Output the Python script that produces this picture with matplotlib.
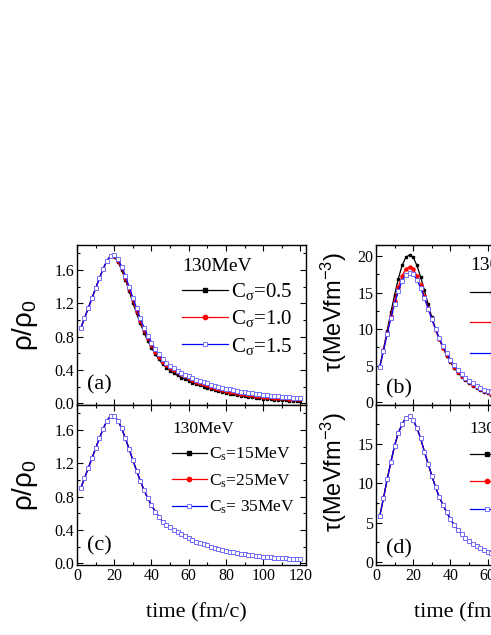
import numpy as np
import matplotlib
matplotlib.use('Agg')
import matplotlib.pyplot as plt
from matplotlib.ticker import MultipleLocator, FormatStrFormatter

# time grid (fm/c)
time = np.arange(2, 121, 2)

# rho/rho0, panel (a): C_sigma = 0.5, 1.0, 1.5
rho_cs05 = [0.90, 1.02, 1.14, 1.26, 1.38, 1.50, 1.61, 1.71, 1.77, 1.76,
            1.70, 1.60, 1.48, 1.35, 1.21, 1.08, 0.96, 0.85, 0.75, 0.67,
            0.59, 0.53, 0.47, 0.43, 0.39, 0.36, 0.335, 0.31, 0.29, 0.27,
            0.25, 0.23, 0.215, 0.20, 0.185, 0.17, 0.16, 0.145, 0.135, 0.125,
            0.115, 0.107, 0.100, 0.092, 0.085, 0.078, 0.072, 0.067, 0.062, 0.057,
            0.053, 0.049, 0.045, 0.042, 0.039, 0.036, 0.034, 0.032, 0.030, 0.028]
rho_cs10 = [0.90, 1.02, 1.14, 1.26, 1.38, 1.50, 1.61, 1.71, 1.77, 1.77,
            1.71, 1.62, 1.50, 1.37, 1.24, 1.11, 0.99, 0.88, 0.78, 0.70,
            0.62, 0.56, 0.50, 0.46, 0.43, 0.40, 0.375, 0.35, 0.325, 0.305,
            0.28, 0.26, 0.245, 0.23, 0.215, 0.20, 0.188, 0.175, 0.162, 0.150,
            0.140, 0.132, 0.124, 0.116, 0.109, 0.102, 0.096, 0.090, 0.085, 0.080,
            0.076, 0.072, 0.068, 0.065, 0.062, 0.059, 0.056, 0.053, 0.050, 0.047]
rho_cs15 = [0.90, 1.02, 1.14, 1.26, 1.38, 1.50, 1.61, 1.71, 1.77, 1.78,
            1.73, 1.64, 1.53, 1.40, 1.27, 1.14, 1.02, 0.91, 0.81, 0.73,
            0.65, 0.59, 0.53, 0.49, 0.45, 0.42, 0.39, 0.365, 0.345, 0.325,
            0.305, 0.285, 0.27, 0.255, 0.24, 0.225, 0.213, 0.20, 0.188, 0.177,
            0.167, 0.158, 0.149, 0.141, 0.133, 0.126, 0.119, 0.113, 0.107, 0.101,
            0.096, 0.091, 0.087, 0.083, 0.079, 0.075, 0.072, 0.069, 0.066, 0.063]

# rho/rho0, panel (c): C_s = 15, 25, 35 MeV (nearly identical)
rho_s = rho_cs10

# tau (MeV fm^-3), panel (b)
tau_cs05 = [4.8, 7.2, 9.8, 12.3, 14.7, 16.9, 18.7, 19.8, 20.15, 19.8,
            18.7, 17.1, 15.3, 13.4, 11.6, 10.0, 8.6, 7.4, 6.35, 5.45,
            4.7, 4.05, 3.5, 3.02, 2.6, 2.25, 1.93, 1.65, 1.42, 1.22,
            1.05, 0.90, 0.78, 0.67, 0.58, 0.50, 0.44, 0.38, 0.33, 0.29,
            0.26, 0.23, 0.20, 0.18, 0.16, 0.14, 0.13, 0.115, 0.105, 0.095,
            0.085, 0.078, 0.071, 0.065, 0.060, 0.055, 0.050, 0.046, 0.042, 0.039]
tau_cs10 = [4.8, 7.1, 9.5, 11.8, 13.9, 15.8, 17.3, 18.2, 18.5, 18.2,
            17.3, 16.0, 14.5, 12.9, 11.35, 9.9, 8.6, 7.45, 6.45, 5.6,
            4.85, 4.2, 3.65, 3.17, 2.75, 2.4, 2.08, 1.80, 1.56, 1.35,
            1.17, 1.01, 0.88, 0.77, 0.67, 0.59, 0.52, 0.46, 0.41, 0.36,
            0.32, 0.29, 0.26, 0.235, 0.21, 0.19, 0.172, 0.156, 0.142, 0.130,
            0.119, 0.109, 0.100, 0.092, 0.085, 0.079, 0.073, 0.068, 0.063, 0.059]
tau_cs15 = [4.8, 7.0, 9.3, 11.5, 13.5, 15.2, 16.6, 17.4, 17.7, 17.5,
            16.75, 15.6, 14.25, 12.8, 11.35, 10.0, 8.75, 7.65, 6.68, 5.83,
            5.08, 4.43, 3.87, 3.38, 2.95, 2.58, 2.26, 1.98, 1.73, 1.52,
            1.33, 1.17, 1.03, 0.91, 0.80, 0.71, 0.63, 0.56, 0.50, 0.45,
            0.40, 0.36, 0.33, 0.30, 0.27, 0.25, 0.23, 0.21, 0.19, 0.175,
            0.160, 0.148, 0.137, 0.127, 0.118, 0.110, 0.102, 0.095, 0.089, 0.083]

# tau, panel (d): C_s = 15, 25, 35 MeV (nearly identical)
tau_s = [5.8, 8.1, 10.5, 12.7, 14.8, 16.4, 17.5, 18.3, 18.6, 18.0,
         17.0, 15.7, 14.0, 12.5, 10.95, 9.5, 8.25, 7.25, 6.3, 5.45,
         4.72, 4.08, 3.53, 3.06, 2.66, 2.31, 2.0, 1.73, 1.5, 1.3,
         1.12, 0.97, 0.84, 0.73, 0.64, 0.56, 0.49, 0.43, 0.38, 0.34,
         0.30, 0.27, 0.24, 0.215, 0.195, 0.175, 0.158, 0.143, 0.130, 0.118,
         0.108, 0.099, 0.091, 0.084, 0.077, 0.071, 0.066, 0.061, 0.057, 0.053]

sigma_labels = ['C$_σ$=0.5', 'C$_σ$=1.0', 'C$_σ$=1.5']
cs_labels = ['C$_s$=15MeV', 'C$_s$=25MeV', 'C$_s$= 35MeV']

plt.rcParams['font.family'] = ['Liberation Serif', 'DejaVu Serif']
plt.rcParams['mathtext.default'] = 'regular'

styles = [dict(color='black', marker='s', ms=1.8, mfc='black', mec='black'),
          dict(color='red', marker='o', ms=2.2, mfc='red', mec='red'),
          dict(color='blue', marker='s', ms=2.4, mfc='white', mec='#6060ff', mew=0.6)]

fig = plt.figure(figsize=(4.91, 6.35), dpi=100)
W, H = 491.0, 635.0
aw = 229 / W
ah = 160 / H
ax_a = fig.add_axes([77 / W, 1 - 405 / H, aw, ah])
ax_c = fig.add_axes([77 / W, 1 - 565 / H, aw, ah])
ax_b = fig.add_axes([376 / W, 1 - 405 / H, aw, ah])
ax_d = fig.add_axes([376 / W, 1 - 565 / H, aw, ah])


def style_axes(ax, ymajor, yfmt):
    ax.set_xlim(0, 123)
    ax.xaxis.set_major_locator(MultipleLocator(20))
    ax.xaxis.set_minor_locator(MultipleLocator(10))
    ax.yaxis.set_major_locator(MultipleLocator(ymajor))
    ax.yaxis.set_minor_locator(MultipleLocator(ymajor / 2))
    ax.yaxis.set_major_formatter(FormatStrFormatter(yfmt))
    ax.tick_params(which='both', direction='in', top=True, right=True,
                   labelsize=11.5, width=0.8, pad=2)
    ax.tick_params(which='major', length=4)
    ax.tick_params(which='minor', length=2.5)
    for s in ax.spines.values():
        s.set_linewidth(1.0)


def draw(ax, series, labels, leg_x, leg_y, fsize, hlen, lspace):
    handles = []
    for ys, lab, st in zip(series, labels, styles):
        h, = ax.plot(time, ys, lw=0.9, label=lab, **st)
        handles.append(h)
    ax.legend(handles=handles, title='130MeV', loc='upper left',
              bbox_to_anchor=(leg_x, leg_y), frameon=False,
              fontsize=fsize, title_fontsize=14 if fsize > 13 else fsize,
              handlelength=hlen, handletextpad=0.15, labelspacing=lspace,
              borderaxespad=0, borderpad=0, alignment='left', markerscale=1.4)


draw(ax_a, [rho_cs05, rho_cs10, rho_cs15], sigma_labels, 0.46, 0.92, 15, 2.2, 0.3)
draw(ax_c, [rho_s, rho_s, rho_s], cs_labels, 0.415, 0.90, 12.5, 2.0, 0.52)
draw(ax_b, [tau_cs05, tau_cs10, tau_cs15], sigma_labels, 0.41, 0.925, 15, 2.2, 0.45)
draw(ax_d, [tau_s, tau_s, tau_s], cs_labels, 0.41, 0.90, 12.5, 2.0, 0.58)

for ax in (ax_a, ax_c):
    style_axes(ax, 0.4, '%.1f')
    ax.set_ylim(-0.02, 1.9)
    ax.set_ylabel('ρ/ρ$_0$', family='Liberation Sans', fontsize=20)
    ax.yaxis.set_label_coords(-0.16, 0.5)
for ax, top in ((ax_b, 21.5), (ax_d, 19.95)):
    style_axes(ax, 5, '%d')
    ax.set_ylim(-0.38, top)
    ax.set_ylabel('τ(MeVfm$^{-3}$)', family='Liberation Sans', fontsize=17)
    ax.yaxis.set_label_coords(-0.12, 0.58)

for ax in (ax_a, ax_b):
    ax.tick_params(labelbottom=False)
for ax, lx in ((ax_c, 0.52), (ax_d, 0.385)):
    ax.set_xlabel('time (fm/c)', fontsize=16)
    ax.xaxis.set_label_coords(lx, -0.24)

for ax, tag, yy in ((ax_a, '(a)', 0.1), (ax_c, '(c)', 0.09),
                    (ax_b, '(b)', 0.075), (ax_d, '(d)', 0.075)):
    ax.text(0.045, yy, tag, transform=ax.transAxes, fontsize=16,
            ha='left', va='baseline')

fig.savefig('out.png', dpi=100)
